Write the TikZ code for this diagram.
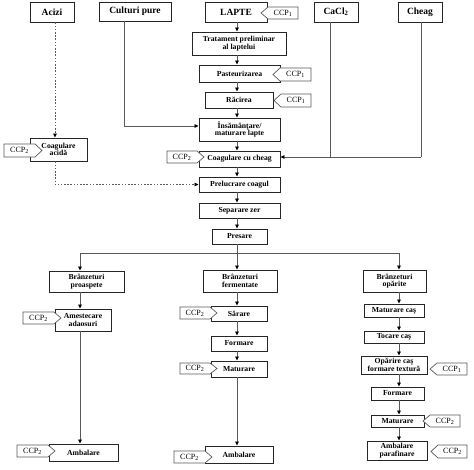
\documentclass[tikz,border=0pt]{standalone}
\usepackage{fontspec}
\setmainfont{Liberation Serif}
\usetikzlibrary{arrows.meta,calc}
\newcommand\tagW[6]{%
  \path[tagshape] (#2,{(#4+#5)/2}) -- ({#2+7},#4) -- (#3,#4) -- (#3,#5) -- ({#2+7},#5) -- cycle;
  \node[tagtext] (#1) at ({(#2+7+#3)/2},{(#4+#5)/2}) {CCP\textsubscript{#6}};}
\newcommand\tagE[6]{%
  \path[tagshape] (#2,#4) -- ({#3-7},#4) -- (#3,{(#4+#5)/2}) -- ({#3-7},#5) -- (#2,#5) -- cycle;
  \node[tagtext] (#1) at ({(#2+#3-7)/2},{(#4+#5)/2}) {CCP\textsubscript{#6}};}
\begin{document}
\begin{tikzpicture}[x=1pt,y=-1pt,
  box/.style={draw=black!85,line width=0.9pt,fill=white,inner sep=0pt,align=center,
    font=\fontsize{7.7}{7.7}\selectfont\bfseries},
  topbox/.style={box,font=\fontsize{9.5}{10}\selectfont\bfseries},
  con/.style={draw=black!65,line width=0.8pt},
  arr/.style={con,-{Triangle[length=4pt,width=3.6pt,color=black]}},
  dots/.style={dash pattern=on 1.6pt off 1.6pt},
  tagshape/.style={draw=black!65,line width=0.7pt,fill=white},
  tagtext/.style={inner sep=0pt,font=\fontsize{8}{8}\selectfont}]
\fill[white] (0,0) rectangle (474,470);
\useasboundingbox (0,0) rectangle (474,470);

% top inputs
\node[topbox,minimum width=44pt,minimum height=20pt] (acizi) at (52,12) {Acizi};
\node[topbox,minimum width=72pt,minimum height=19pt] (cult) at (135,11.5) {Culturi pure};
\node[topbox,minimum width=62pt,minimum height=20pt] (lapte) at (236,12) {LAPTE};
\node[topbox,minimum width=44pt,minimum height=20pt] (cacl) at (336,12) {CaCl\textsubscript{2}};
\node[topbox,minimum width=44pt,minimum height=20pt] (cheag) at (420,12) {Cheag};

% main column
\node[box,minimum width=94pt,minimum height=23pt] (trat) at (239,43.5) {Tratament preliminar\\al laptelui};
\node[box,minimum width=81pt,minimum height=17pt] (past) at (239.5,73.5) {Pasteurizarea};
\node[box,minimum width=68pt,minimum height=16pt] (rac) at (239,100) {Răcirea};
\node[box,minimum width=81pt,minimum height=23pt] (ins) at (239.5,129.5) {Însămânţare/\\maturare lapte};
\node[box,minimum width=81pt,minimum height=16pt] (coagch) at (239.5,159) {Coagulare cu cheag};
\node[box,minimum width=81pt,minimum height=15pt] (prel) at (239.5,184.5) {Prelucrare coagul};
\node[box,minimum width=81pt,minimum height=15pt] (sep) at (239.5,210.5) {Separare zer};
\node[box,minimum width=55pt,minimum height=15pt] (pres) at (239.5,236.5) {Presare};
\node[box,minimum width=57pt,minimum height=23pt] (coagac) at (58.5,149.5) {Coagulare\\acidă};

% left branch
\node[box,minimum width=75pt,minimum height=21pt] (prosp) at (86.5,281.5) {Brânzeturi\\proaspete};
\node[box,minimum width=56pt,minimum height=22pt] (amest) at (83,320) {Amestecare\\adaosuri};
\node[box,minimum width=69pt,minimum height=17pt] (ambL) at (83.5,452.5) {Ambalare};

% middle branch
\node[box,minimum width=74pt,minimum height=22pt] (ferm) at (240,281) {Brânzeturi\\fermentate};
\node[box,minimum width=56pt,minimum height=15pt] (sar) at (239,313.5) {Sărare};
\node[box,minimum width=56pt,minimum height=15pt] (formM) at (239,343.5) {Formare};
\node[box,minimum width=56pt,minimum height=16pt] (matM) at (239,369) {Maturare};
\node[box,minimum width=68pt,minimum height=17pt] (ambM) at (239,454.5) {Ambalare};

% right branch
\node[box,minimum width=63pt,minimum height=22pt] (opar) at (394.5,281) {Brânzeturi\\opărite};
\node[box,minimum width=60pt,minimum height=13pt] (matcas) at (394,310.5) {Maturare caş};
\node[box,minimum width=60pt,minimum height=12pt] (tocare) at (394,337) {Tocare caş};
\node[box,minimum width=66pt,minimum height=18pt] (oparire) at (394,365) {Opărire caş\\formare textură};
\node[box,minimum width=53pt,minimum height=13pt] (formR) at (397.5,393.5) {Formare};
\node[box,minimum width=53pt,minimum height=12pt] (matR) at (397.5,421) {Maturare};
\node[box,minimum width=60pt,minimum height=19pt] (ambR) at (397,450.5) {Ambalare\\parafinare};

% helper coordinates
\coordinate (xA) at (55,0);
\coordinate (xC) at (124,0);
\coordinate (yCu) at (0,126);
\coordinate (xCa) at (330,0);
\coordinate (xCh) at (421,0);
\coordinate (yCh) at (0,157);
\coordinate (xM) at (237,0);
\coordinate (bL) at (80,253);
\coordinate (bR) at (399,253);

% main column arrows
\draw[arr] (lapte.south -| xM) -- (trat.north -| xM);
\draw[arr] (trat.south -| xM) -- (past.north -| xM);
\draw[arr] (past.south -| xM) -- (rac.north -| xM);
\draw[arr] (rac.south -| xM) -- (ins.north -| xM);
\draw[arr] (ins.south -| xM) -- (coagch.north -| xM);
\draw[arr] (coagch.south -| xM) -- (prel.north -| xM);
\draw[arr] (prel.south -| xM) -- (sep.north -| xM);
\draw[arr] (sep.south -| xM) -- (pres.north -| xM);

% inputs
\draw[arr,dots] (acizi.south -| xA) -- (coagac.north -| xA);
\draw[arr,dots] (coagac.south -| xA) |- (prel.west);
\draw[arr] (cult.south -| xC) |- (ins.west |- yCu);
\draw[con] (cacl.south -| xCa) -- (xCa |- yCh);
\draw[con] (cheag.south -| xCh) -- (xCh |- yCh);
\draw[arr] (xCh |- yCh) -- (coagch.east |- yCh);

% split
\draw[arr] (pres.south -| xM) -- (ferm.north -| xM);
\draw[con] (bL) -- (bR);
\draw[arr] (bL) -- (prosp.north -| bL);
\draw[arr] (bR) -- (opar.north -| bR);

% left branch arrows
\draw[arr] (prosp.south -| bL) -- (amest.north -| bL);
\draw[arr] (amest.south -| bL) -- (ambL.north -| bL);

% middle branch arrows
\draw[arr] (ferm.south -| xM) -- (sar.north -| xM);
\draw[arr] (sar.south -| xM) -- (formM.north -| xM);
\draw[arr] (formM.south -| xM) -- (matM.north -| xM);
\draw[arr] (matM.south -| xM) -- (ambM.north -| xM);

% right branch arrows
\draw[arr] (opar.south -| bR) -- (matcas.north -| bR);
\draw[arr] (matcas.south -| bR) -- (tocare.north -| bR);
\draw[arr] (tocare.south -| bR) -- (oparire.north -| bR);
\draw[arr] (oparire.south -| bR) -- (formR.north -| bR);
\draw[arr] (formR.south -| bR) -- (matR.north -| bR);
\draw[arr] (matR.south -| bR) -- (ambR.north -| bR);

% CCP tags
\tagW{tLapte}{261}{298}{7}{19}{1}
\tagW{tPast}{273}{311}{68}{81}{1}
\tagW{tRac}{274}{311}{94}{107}{1}
\tagW{tOpar}{430}{467}{363}{375}{1}
\tagW{tMatR}{423}{460}{415}{427}{2}
\tagW{tAmbR}{431}{467}{445}{458}{2}
\tagE{tCoagch}{167}{204}{151}{163}{2}
\tagE{tCoagac}{4}{42}{144}{157}{2}
\tagE{tAmest}{23}{61}{312}{324}{2}
\tagE{tAmbL}{17}{55}{445}{457}{2}
\tagE{tSar}{180}{217}{307}{319}{2}
\tagE{tMatM}{180}{217}{363}{374}{2}
\tagE{tAmbM}{174}{212}{451}{463}{2}
\end{tikzpicture}
\end{document}
